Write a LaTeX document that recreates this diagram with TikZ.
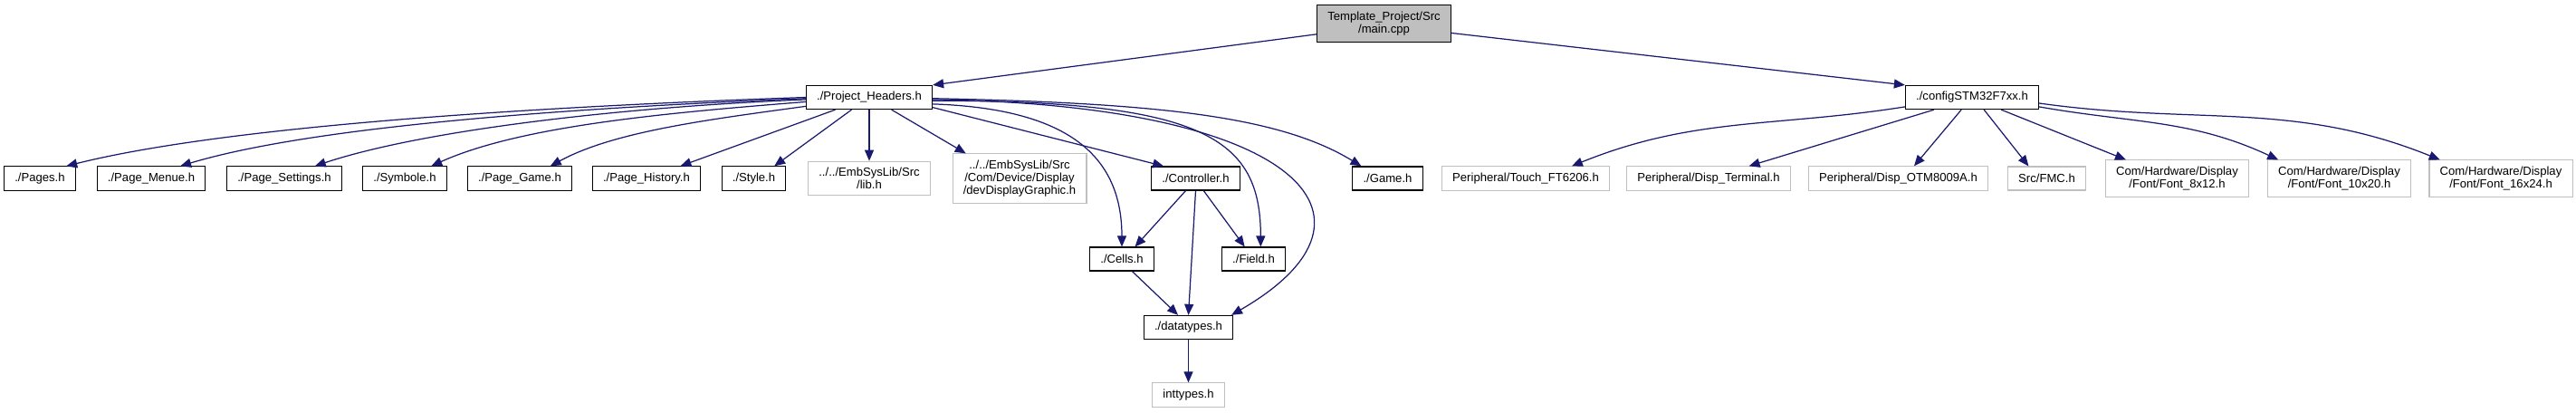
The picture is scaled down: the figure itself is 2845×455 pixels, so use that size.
\documentclass[tikz,border=0pt]{standalone}
\usepackage{fontspec}
\setmainfont{Liberation Sans}
\usetikzlibrary{arrows.meta, calc, positioning}
\definecolor{edgeblue}{RGB}{25, 25, 112}
\definecolor{extgray}{RGB}{191, 191, 191}
\definecolor{mainfill}{RGB}{191, 191, 191}

\begin{document}
\begin{tikzpicture}[x=0.2mm, y=0.2mm,
  every node/.style={font=\fontsize{7.45}{7.97}\selectfont},
  hbox/.style={draw=black, fill=white, line width=0.6pt, inner xsep=2.35mm,
               inner ysep=1.4mm, minimum height=5.2mm, align=center},
  xbox/.style={hbox, draw=extgray},
  mbox/.style={hbox, fill=mainfill},
  arr/.style={-{Triangle[length=2.4mm, width=2mm]}, color=edgeblue, line width=0.7pt}
]
  \useasboundingbox (0,0) rectangle (2845,-455);

  \node[mbox] (main)  at (1528.5,-26)  {Template\_Project/Src\\/main.cpp};
  \node[hbox] (ph)    at (960,-107.5)  {./Project\_Headers.h};
  \node[hbox] (cfg)   at (2178,-107.5) {./configSTM32F7xx.h};

  \node[hbox] (pages) at (44,-197)     {./Pages.h};
  \node[hbox] (menue) at (167,-197)    {./Page\_Menue.h};
  \node[hbox] (sett)  at (314,-197)    {./Page\_Settings.h};
  \node[hbox] (symb)  at (447,-197)    {./Symbole.h};
  \node[hbox] (pgame) at (574,-197)    {./Page\_Game.h};
  \node[hbox] (hist)  at (714,-197)    {./Page\_History.h};
  \node[hbox] (style) at (832.5,-197)  {./Style.h};
  \node[xbox] (lib)   at (960,-197)    {../../EmbSysLib/Src\\/lib.h};
  \node[xbox] (dev)   at (1126,-197)   {../../EmbSysLib/Src\\/Com/Device/Display\\/devDisplayGraphic.h};
  \node[hbox] (ctrl)  at (1320.5,-197) {./Controller.h};
  \node[hbox] (game)  at (1532.5,-197) {./Game.h};
  \node[xbox] (touch) at (1685,-197)   {Peripheral/Touch\_FT6206.h};
  \node[xbox] (term)  at (1887,-197)   {Peripheral/Disp\_Terminal.h};
  \node[xbox] (otm)   at (2096.5,-197) {Peripheral/Disp\_OTM8009A.h};
  \node[xbox] (fmc)   at (2260.5,-197) {Src/FMC.h};
  \node[xbox] (font8) at (2404.5,-197) {Com/Hardware/Display\\/Font/Font\_8x12.h};
  \node[xbox] (font10)at (2583.5,-197) {Com/Hardware/Display\\/Font/Font\_10x20.h};
  \node[xbox] (font16)at (2762,-197)   {Com/Hardware/Display\\/Font/Font\_16x24.h};

  \node[hbox] (cells) at (1239,-286)   {./Cells.h};
  \node[hbox] (field) at (1384.5,-286) {./Field.h};
  \node[hbox] (dtypes)at (1312.5,-361.5){./datatypes.h};
  \node[xbox] (ints)  at (1312.5,-436) {inttypes.h};

  \draw[arr] (main.189) -- (ph.north east);
  \draw[arr] (main.352) -- (cfg.north west);

  % left fan of Project_Headers.h
  \draw[arr] (ph.180) .. controls +(-290,-10) and +(180,45) .. (pages.25);
  \draw[arr] (ph.181) .. controls +(-250,-10) and +(150,45) .. (menue.23);
  \draw[arr] (ph.182) .. controls +(-200,-8) and +(120,40) .. (sett.22);
  \draw[arr] (ph.184) .. controls +(-150,-12) and +(100,45) .. (symb.25);
  \draw[arr] (ph.188) .. controls +(-110,-15) and +(70,38) .. (pgame.22);
  \draw[arr] (ph.200) -- (hist.20);
  \draw[arr] (ph.215) -- (style.31);
  \draw[arr] (ph.south) -- (lib.north);
  \draw[arr] (ph.331) -- (dev.155);

  % right fan of Project_Headers.h
  \draw[arr] (ph.351) -- (ctrl.159);
  \draw[arr] (ph.354) .. controls +(150,-5) and +(0,100) .. (cells.north);
  \draw[arr] (ph.357) .. controls +(300,0) and +(0,120) .. (field.60);
  \draw[arr] (ph.358) .. controls +(400,-5) and +(190,110) .. (dtypes.16);
  \draw[arr] (ph.359) .. controls +(250,-5) and +(-90,55) .. (game.155);

  \draw[arr] (ctrl.231) -- (cells.43);
  \draw[arr] (ctrl.south) -- (dtypes.north);
  \draw[arr] (ctrl.303) -- (field.126);
  \draw[arr] (cells.310) -- (dtypes.130);
  \draw[arr] (dtypes) -- (ints);

  % configSTM32F7xx.h
  \draw[arr] (cfg.188) to[out=189, in=22] (touch.15);
  \draw[arr] (cfg.198) -- (term.17);
  \draw[arr] (cfg.229) -- (otm.38);
  \draw[arr] (cfg.314) -- (fmc.146);
  \draw[arr] (cfg.337) -- (font8.160);
  \draw[arr] (cfg.352) to[out=-10, in=155] (font10.163);
  \draw[arr] (cfg.355) to[out=-8, in=158] (font16.163);
\end{tikzpicture}
\end{document}
